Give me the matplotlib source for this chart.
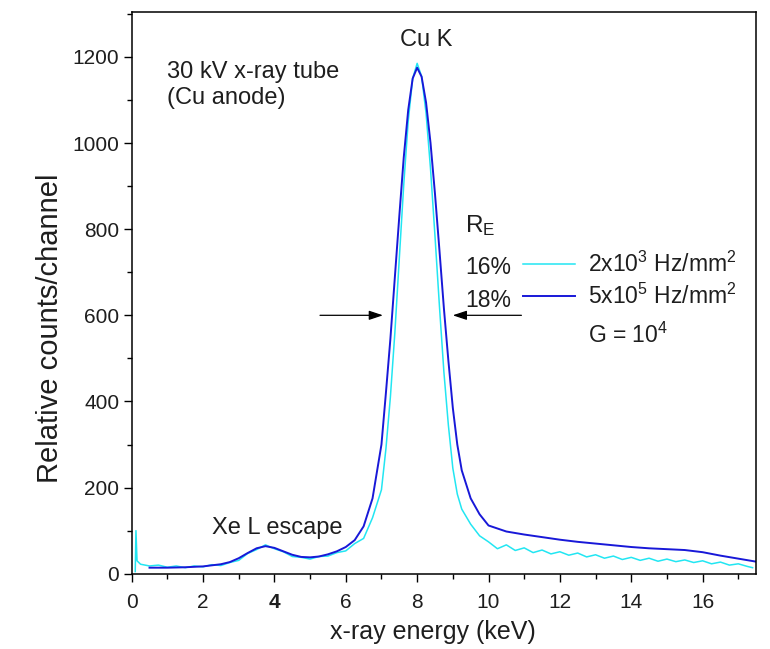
import matplotlib
matplotlib.use("Agg")
import matplotlib.pyplot as plt
from matplotlib.ticker import MultipleLocator

plt.rcParams['font.family'] = ['Liberation Sans', 'DejaVu Sans']
plt.rcParams['mathtext.default'] = 'regular'

# -------------------- DATOS --------------------
# espectro a 2x10^3 Hz/mm^2 (cian)
cyan_kev = [0.10, 0.12, 0.15, 0.25, 0.5, 0.75, 1.0, 1.25, 1.5, 1.75, 2.0, 2.25, 2.5, 2.75,
            3.0, 3.25, 3.5, 3.75, 4.0, 4.25, 4.5, 4.75, 5.0, 5.25, 5.5, 5.75, 6.0, 6.25,
            6.5, 6.75, 7.0, 7.125, 7.25, 7.375, 7.5, 7.625, 7.75, 7.875, 8.0, 8.125,
            8.25, 8.375, 8.5, 8.625, 8.75, 8.875, 9.0, 9.125, 9.25, 9.5, 9.75, 10.0,
            10.25, 10.5, 10.75, 11.0, 11.25, 11.5, 11.75, 12.0, 12.25, 12.5, 12.75, 13.0,
            13.25, 13.5, 13.75, 14.0, 14.25, 14.5, 14.75, 15.0, 15.25, 15.5, 15.75, 16.0,
            16.25, 16.5, 16.75, 17.0, 17.25, 17.4]
cyan_counts = [5, 100, 30, 22, 18, 20, 15, 18, 14, 18, 16, 21, 19, 26,
               31, 47, 56, 67, 58, 51, 40, 38, 34, 40, 41, 49, 53, 70,
               82, 130, 195, 290, 410, 559, 732, 904, 1051, 1150, 1185, 1155,
               1069, 940, 784, 621, 468, 345, 245, 185, 150, 115, 88, 74,
               58, 67, 54, 60, 49, 55, 46, 51, 43, 48, 39, 44,
               36, 41, 33, 38, 31, 36, 29, 34, 28, 32, 26, 30,
               23, 27, 20, 23, 17, 14]

# espectro a 5x10^5 Hz/mm^2 (azul)
blue_kev = [0.5, 1.0, 1.5, 2.0, 2.5, 2.75, 3.0, 3.25, 3.5, 3.75, 4.0, 4.25, 4.5, 4.75,
            5.0, 5.25, 5.5, 5.75, 6.0, 6.25, 6.5, 6.75, 7.0, 7.125, 7.25, 7.375, 7.5,
            7.625, 7.75, 7.875, 8.0, 8.125, 8.25, 8.375, 8.5, 8.625, 8.75, 8.875, 9.0,
            9.125, 9.25, 9.5, 9.75, 10.0, 10.5, 11.0, 11.5, 12.0, 12.5, 13.0,
            13.5, 14.0, 14.5, 15.0, 15.5, 16.0, 16.5, 17.0, 17.5]
blue_counts = [14, 14, 15, 17, 22, 27, 36, 48, 59, 64, 60, 52, 44, 39,
               38, 40, 45, 52, 62, 78, 110, 175, 300, 420, 545, 688, 830,
               967, 1077, 1150, 1175, 1154, 1094, 1000, 882, 751, 616, 495, 385,
               300, 240, 175, 138, 112, 98, 91, 85, 79, 74, 70,
               66, 62, 59, 57, 55, 50, 42, 35, 28]

x_ticks = [0, 2, 4, 6, 8, 10, 12, 14, 16]
x_tick_labels = ['0', '2', '4', '6', '8', '10', '12', '14', '16']
y_ticks = [0, 200, 400, 600, 800, 1000, 1200]

serie_labels = ['2x10$^3$ Hz/mm$^2$', '5x10$^5$ Hz/mm$^2$']
re_labels = ['16%', '18%']

TXT = '#1e1e1e'

# -------------------- GRÁFICA --------------------
fig = plt.figure(figsize=(7.7, 6.49), dpi=100)
ax = fig.add_axes([0.171, 0.116, 0.811, 0.866])

l_cyan, = ax.plot(cyan_kev, cyan_counts, color='#22E6F2', lw=1.1)
l_blue, = ax.plot(blue_kev, blue_counts, color='#1818D8', lw=1.4)

ax.set_xlim(0, 17.5)
ax.set_ylim(0, 1305)
ax.set_xticks(x_ticks, x_tick_labels)
ax.set_yticks(y_ticks)
ax.xaxis.set_minor_locator(MultipleLocator(1))
ax.yaxis.set_minor_locator(MultipleLocator(100))
ax.tick_params(which='major', direction='out', length=6, width=1, labelsize=15,
               labelcolor=TXT, pad=3, top=False, right=False)
ax.tick_params(axis='x', which='major', pad=8)
ax.tick_params(which='minor', direction='out', length=3.5, width=1, top=False, right=False)
ax.get_xticklabels()[2].set_fontweight('bold')
for s in ax.spines.values():
    s.set_linewidth(1.1)

ax.set_xlabel('x-ray energy (keV)', fontsize=18, color=TXT)
ax.xaxis.set_label_coords(0.483, -0.083)
ax.set_ylabel('Relative counts/channel', fontsize=21, color=TXT)
ax.yaxis.set_label_coords(-0.108, 0.436)

# textos
ax.text(0.98, 1134, '30 kV x-ray tube\n(Cu anode)', fontsize=17, va='center',
        ha='left', linespacing=1.23, color=TXT)
ax.text(8.25, 1240, 'Cu K', fontsize=17, ha='center', va='center', color=TXT)
ax.text(4.07, 107, 'Xe L escape', fontsize=17, ha='center', va='center', color=TXT)
ax.text(9.34, 793, 'R$_E$', fontsize=17.5, ha='left', va='baseline', color=TXT)
ax.text(9.34, 695, re_labels[0], fontsize=16.5, ha='left', va='baseline', color=TXT)
ax.text(9.34, 619, re_labels[1], fontsize=16.5, ha='left', va='baseline', color=TXT)
ax.text(12.79, 537, 'G = 10$^4$', fontsize=16.5, ha='left', va='baseline', color=TXT)

leg = ax.legend([l_cyan, l_blue], serie_labels, loc='upper left', bbox_to_anchor=(0.626, 0.573),
                frameon=False, fontsize=16.5, handlelength=2.3, handletextpad=0.57,
                borderpad=0, borderaxespad=0, labelspacing=0.3)
for t in leg.get_texts():
    t.set_color(TXT)

# flechas de FWHM
arrow = dict(arrowstyle='-|>,head_length=0.6,head_width=0.2', color='black', lw=0.9,
             mutation_scale=14)
ax.annotate('', xy=(7.12, 600), xytext=(5.2, 600), arrowprops=arrow)
ax.annotate('', xy=(8.92, 600), xytext=(11.0, 600), arrowprops=arrow)

fig.savefig('out.png', dpi=100)
